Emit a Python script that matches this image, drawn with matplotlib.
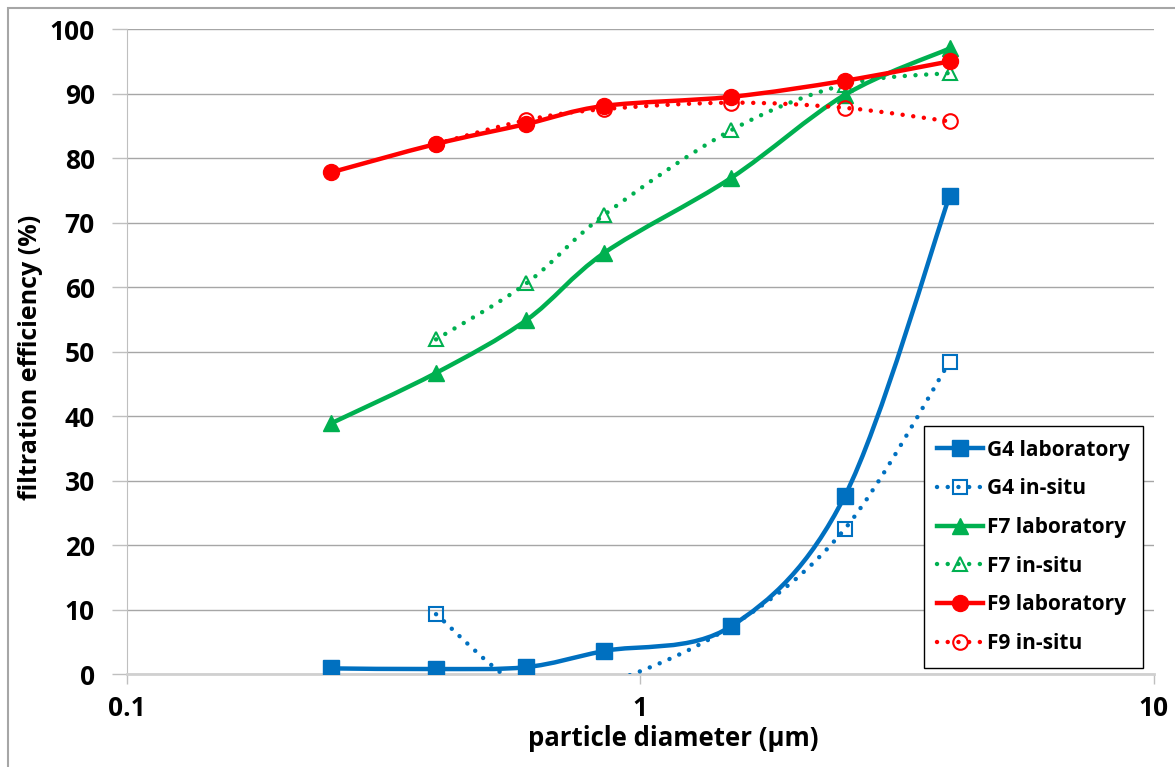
import numpy as np
import matplotlib
matplotlib.use("Agg")
import matplotlib.pyplot as plt
from matplotlib.path import Path
from matplotlib.patches import PathPatch, Rectangle
from matplotlib.lines import Line2D

plt.rcParams["font.family"] = ["Open Sans", "DejaVu Sans"]
plt.rcParams["font.weight"] = "bold"

# particle diameter (um)
diam = [0.25, 0.4, 0.6, 0.85, 1.5, 2.5, 4.0]

g4_lab = [0.9, 0.8, 1.1, 3.6, 7.4, 27.6, 74.1]
g4_situ_x = [0.4, 0.6, 0.85, 1.5, 2.5, 4.0]
g4_situ = [9.3, -2.3, -1.5, 7.4, 22.5, 48.4]

f7_lab = [38.9, 46.7, 54.9, 65.3, 76.9, 89.8, 97.0]
f7_situ_x = [0.4, 0.6, 0.85, 1.5, 2.5, 4.0]
f7_situ = [51.9, 60.6, 71.2, 84.3, 91.4, 93.2]

f9_lab = [77.8, 82.2, 85.3, 88.1, 89.5, 92.0, 95.0]
f9_situ_x = [0.4, 0.6, 0.85, 1.5, 2.5, 4.0]
f9_situ = [82.2, 85.9, 87.6, 88.6, 87.8, 85.7]

blue, green, red = "#0070C0", "#00B050", "#FF0000"

fig = plt.figure(figsize=(11.75, 7.67), dpi=100)
fig.patches.append(Rectangle((0.007, -0.1), 1.1, 1.0896, transform=fig.transFigure,
                             fill=False, ec="#A6A6A6", lw=1.5))
ax = fig.add_axes([0.108, 0.121, 0.874, 0.841])
ax.set_xscale("log")
ax.set_xlim(0.1, 10)
ax.set_ylim(0, 100)


def smooth(xs, ys):
    # Excel-like smoothed line, built in display space
    pts = ax.transData.transform(np.column_stack([xs, ys]))
    verts = [pts[0]]
    codes = [Path.MOVETO]
    n = len(pts)
    for i in range(n - 1):
        p0 = pts[i - 1] if i > 0 else pts[i]
        p1, p2 = pts[i], pts[i + 1]
        p3 = pts[i + 2] if i + 2 < n else pts[i + 1]
        verts += [p1 + (p2 - p0) / 6, p2 - (p3 - p1) / 6, p2]
        codes += [Path.CURVE4] * 3
    return Path(ax.transData.inverted().transform(np.array(verts)), codes)


dots = (0, (0.01, 2.4))
series = [
    (diam, g4_lab, blue, "-", "s", True, "G4 laboratory"),
    (g4_situ_x, g4_situ, blue, dots, "s", False, "G4 in-situ"),
    (diam, f7_lab, green, "-", "^", True, "F7 laboratory"),
    (f7_situ_x, f7_situ, green, dots, "^", False, "F7 in-situ"),
    (diam, f9_lab, red, "-", "o", True, "F9 laboratory"),
    (f9_situ_x, f9_situ, red, dots, "o", False, "F9 in-situ"),
]

handles = []
for xs, ys, c, ls, m, filled, lab in series:
    lw = 3.2 if filled else 3.2
    ax.add_patch(PathPatch(smooth(xs, ys), fill=False, ec=c, lw=lw, ls=ls,
                           capstyle="round", joinstyle="round", zorder=3))
    ms = 11.5 if filled else 10.5
    kw = dict(marker=m, ms=ms, color=c, mec=c)
    if not filled:
        kw.update(mfc="none", mew=1.5)
    ax.plot(xs, ys, ls="none", zorder=4, **kw)
    handles.append(Line2D([], [], ls=ls, lw=lw, dash_capstyle="round", label=lab, **kw))

ax.set_yticks(range(0, 101, 10))
ax.set_xticks([0.1, 1, 10])
ax.set_xticklabels(["0.1", "1", "10"])
ax.minorticks_off()
ax.tick_params(axis="y", length=11, width=1, color="#BFBFBF", labelsize=19, pad=12)
ax.tick_params(axis="x", length=7, width=1, color="#BFBFBF", labelsize=19, pad=8)
ax.grid(axis="y", color="#A6A6A6", lw=1)
ax.set_axisbelow(True)
for s in ["top", "right"]:
    ax.spines[s].set_visible(False)
ax.spines["left"].set_color("#BFBFBF")
ax.spines["bottom"].set_color("#D0D0D0")
ax.spines["bottom"].set_linewidth(2)

ax.set_xlabel("particle diameter (µm)", fontsize=18.5, fontweight="bold")
ax.set_ylabel("filtration efficiency (%)", fontsize=18, fontweight="bold")
ax.xaxis.set_label_coords(0.532, -0.078)
ax.yaxis.set_label_coords(-0.082, 0.491)

leg = ax.legend(handles=handles, loc="lower right", bbox_to_anchor=(1.0, -0.006),
                fontsize=15, handlelength=2.2, labelspacing=0.85, borderpad=0.65,
                handletextpad=0.2, fancybox=False, framealpha=1, edgecolor="black")
leg.get_frame().set_linewidth(1)

fig.savefig("out.png", dpi=100)
